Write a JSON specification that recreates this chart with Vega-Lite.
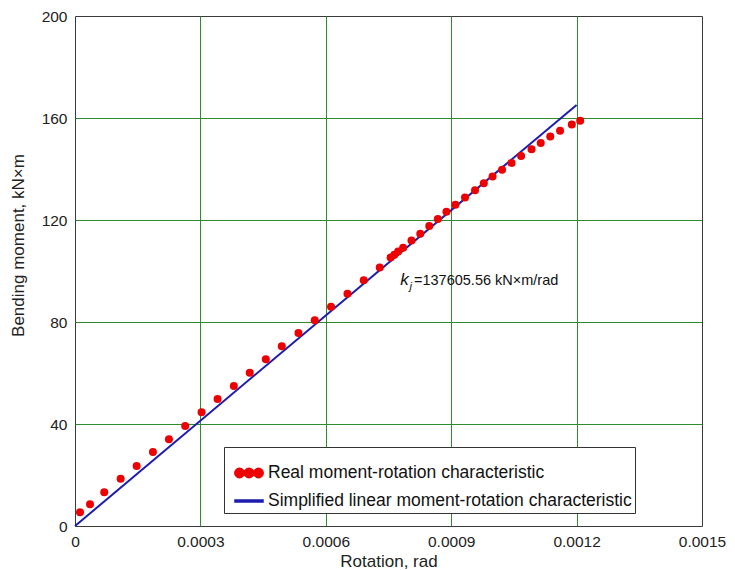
{
  "$schema": "https://vega.github.io/schema/vega-lite/v6.json",
  "width": 627,
  "height": 510,
  "autosize": {"type": "none"},
  "padding": {"left": 75, "top": 16, "right": 33, "bottom": 44},
  "background": "white",
  "config": {
    "view": {"stroke": "#3a3a3a", "strokeWidth": 1},
    "axis": {
      "grid": true,
      "gridColor": "#2e8b2e",
      "gridWidth": 1,
      "domain": false,
      "ticks": false,
      "labelFont": "Liberation Sans",
      "labelFontSize": 15.5,
      "labelColor": "#222222",
      "titleFont": "Liberation Sans",
      "titleFontSize": 17,
      "titleFontWeight": "normal",
      "titleColor": "#222222"
    }
  },
  "datasets": {
    "real": [
      {"rotation": 0.0000120, "moment": 5.4},
      {"rotation": 0.0000359, "moment": 8.5},
      {"rotation": 0.0000700, "moment": 13.2},
      {"rotation": 0.0001092, "moment": 18.5},
      {"rotation": 0.0001475, "moment": 23.5},
      {"rotation": 0.0001864, "moment": 29.0},
      {"rotation": 0.0002247, "moment": 34.0},
      {"rotation": 0.0002636, "moment": 39.2},
      {"rotation": 0.0003028, "moment": 44.6},
      {"rotation": 0.0003410, "moment": 49.8},
      {"rotation": 0.0003800, "moment": 54.9},
      {"rotation": 0.0004180, "moment": 60.1},
      {"rotation": 0.0004565, "moment": 65.4},
      {"rotation": 0.0004947, "moment": 70.5},
      {"rotation": 0.0005346, "moment": 75.7},
      {"rotation": 0.0005736, "moment": 80.7},
      {"rotation": 0.0006125, "moment": 86.0},
      {"rotation": 0.0006518, "moment": 91.1},
      {"rotation": 0.0006907, "moment": 96.4},
      {"rotation": 0.0007290, "moment": 101.4},
      {"rotation": 0.0007550, "moment": 105.3},
      {"rotation": 0.0007640, "moment": 106.4},
      {"rotation": 0.0007730, "moment": 107.6},
      {"rotation": 0.0007850, "moment": 109.1},
      {"rotation": 0.0008050, "moment": 112.0},
      {"rotation": 0.0008260, "moment": 114.6},
      {"rotation": 0.0008475, "moment": 117.6},
      {"rotation": 0.0008680, "moment": 120.4},
      {"rotation": 0.0008886, "moment": 123.2},
      {"rotation": 0.0009100, "moment": 126.0},
      {"rotation": 0.0009330, "moment": 128.8},
      {"rotation": 0.0009570, "moment": 131.7},
      {"rotation": 0.0009780, "moment": 134.4},
      {"rotation": 0.0009990, "moment": 137.1},
      {"rotation": 0.0010217, "moment": 139.7},
      {"rotation": 0.0010444, "moment": 142.4},
      {"rotation": 0.0010672, "moment": 145.1},
      {"rotation": 0.0010922, "moment": 147.7},
      {"rotation": 0.0011142, "moment": 150.2},
      {"rotation": 0.0011370, "moment": 152.7},
      {"rotation": 0.0011604, "moment": 155.0},
      {"rotation": 0.0011885, "moment": 157.5},
      {"rotation": 0.0012086, "moment": 158.9}
    ],
    "linear": [
      {"rotation": 0, "moment": 0},
      {"rotation": 0.0012, "moment": 165.13}
    ]
  },
  "encoding": {
    "x": {
      "field": "rotation",
      "type": "quantitative",
      "scale": {"domain": [0, 0.0015], "nice": false},
      "axis": {
        "title": "Rotation, rad",
        "values": [0, 0.0003, 0.0006, 0.0009, 0.0012, 0.0015],
        "labelExpr": "datum.value === 0 ? '0' : format(datum.value, '.4f')",
        "labelFlush": false,
        "labelOverlap": false,
        "labelPadding": 8,
        "titlePadding": 4,
        "gridOpacity": {"condition": {"test": "datum.value === 0 || datum.value > 0.00149", "value": 0}, "value": 1}
      }
    },
    "y": {
      "field": "moment",
      "type": "quantitative",
      "scale": {"domain": [0, 200], "nice": false},
      "axis": {
        "title": "Bending moment, kN×m",
        "values": [0, 40, 80, 120, 160, 200],
        "labelPadding": 8,
        "titleX": -52,
        "titleY": 229,
        "titleBaseline": "alphabetic",
        "gridOpacity": {"condition": {"test": "datum.value === 0 || datum.value === 200", "value": 0}, "value": 1}
      }
    }
  },
  "layer": [
    {
      "data": {"name": "linear"},
      "transform": [{"calculate": "'Simplified linear moment-rotation characteristic'", "as": "series"}],
      "mark": {"type": "line", "strokeWidth": 2},
      "encoding": {
        "color": {
          "field": "series",
          "type": "nominal",
          "scale": {
            "domain": ["Real moment-rotation characteristic", "Simplified linear moment-rotation characteristic"],
            "range": ["#ee0000", "#1c1cb0"]
          },
          "legend": {
            "title": " ",
            "titleFontSize": 9,
            "titlePadding": 3,
            "orient": "none",
            "legendX": 149,
            "legendY": 431,
            "strokeColor": "#333333",
            "fillColor": "white",
            "padding": 3,
            "rowPadding": 8,
            "labelFont": "Liberation Sans",
            "labelFontSize": 17.5,
            "labelColor": "#111111",
            "labelLimit": 600,
            "labelOffset": 8,
            "symbolSize": 400,
            "symbolOffset": 11,
            "encode": {
              "symbols": {
                "update": {
                  "shape": {"signal": "datum.value === 'Real moment-rotation characteristic' ? 'M-1.42,0a0.47,0.47 0 1,0 0.94,0a0.47,0.47 0 1,0 -0.94,0ZM-0.47,0a0.47,0.47 0 1,0 0.94,0a0.47,0.47 0 1,0 -0.94,0ZM0.48,0a0.47,0.47 0 1,0 0.94,0a0.47,0.47 0 1,0 -0.94,0Z' : 'M-1.4,-0.1L1.4,-0.1L1.4,0.1L-1.4,0.1Z'"},
                  "fill": {"signal": "scale('color', datum.value)"},
                  "stroke": {"value": "transparent"},
                  "opacity": {"value": 1},
                  "size": {"value": 400}
                }
              }
            }
          }
        }
      }
    },
    {
      "data": {"name": "real"},
      "transform": [{"calculate": "'Real moment-rotation characteristic'", "as": "series"}],
      "mark": {"type": "point", "filled": true, "shape": "circle", "size": 64, "opacity": 1},
      "encoding": {
        "color": {"field": "series", "type": "nominal"}
      }
    },
    {
      "data": {"values": [{"rotation": 0.000778, "moment": 94.5, "label": "k"}]},
      "mark": {"type": "text", "font": "Liberation Sans", "fontStyle": "italic", "fontSize": 17, "align": "left", "baseline": "alphabetic", "color": "#111111"},
      "encoding": {"text": {"field": "label"}}
    },
    {
      "data": {"values": [{"rotation": 0.0008, "moment": 92.6, "label": "j"}]},
      "mark": {"type": "text", "font": "Liberation Sans", "fontStyle": "italic", "fontSize": 11, "align": "left", "baseline": "alphabetic", "color": "#111111"},
      "encoding": {"text": {"field": "label"}}
    },
    {
      "data": {"values": [{"rotation": 0.000811, "moment": 94.5, "label": "=137605.56 kN×m/rad"}]},
      "mark": {"type": "text", "font": "Liberation Sans", "fontSize": 14.5, "align": "left", "baseline": "alphabetic", "color": "#111111"},
      "encoding": {"text": {"field": "label"}}
    }
  ]
}
